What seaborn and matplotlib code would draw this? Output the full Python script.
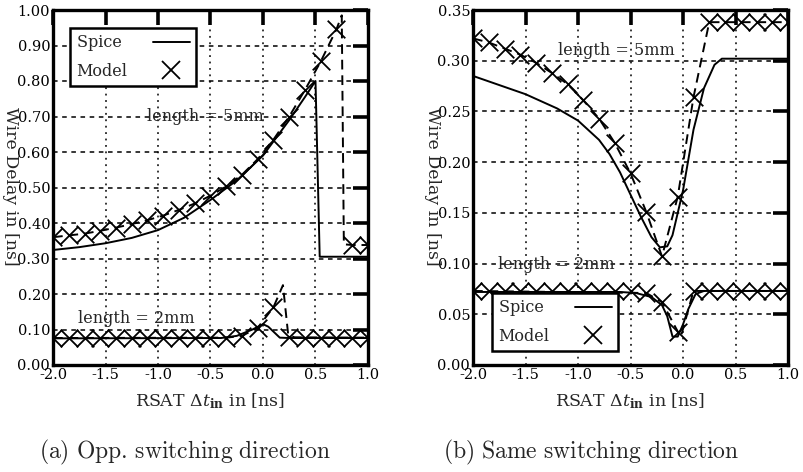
import matplotlib
matplotlib.use("Agg")
import matplotlib.pyplot as plt
import seaborn as sns
import pandas as pd
from matplotlib.lines import Line2D

# ---------------- data ----------------
# model sample points (crosses), same x grid for all model series
x_model = [-2.0, -1.85, -1.7, -1.55, -1.4, -1.25, -1.1, -0.95, -0.8, -0.65, -0.5,
           -0.35, -0.2, -0.05, 0.1, 0.25, 0.4, 0.55, 0.7, 0.85, 1.0]

# (a) opposite switching direction
a_model5 = [0.360, 0.365, 0.370, 0.378, 0.387, 0.397, 0.408, 0.421, 0.437, 0.455, 0.477,
            0.503, 0.536, 0.580, 0.635, 0.700, 0.775, 0.855, 0.946, 0.338, 0.338]
a_model5_line_x = [-2.0, -1.85, -1.7, -1.55, -1.4, -1.25, -1.1, -0.95, -0.8, -0.65, -0.5,
                   -0.35, -0.2, -0.05, 0.1, 0.25, 0.4, 0.55, 0.7, 0.75, 0.77, 0.85, 1.0]
a_model5_line_y = [0.360, 0.365, 0.370, 0.378, 0.387, 0.397, 0.408, 0.421, 0.437, 0.455, 0.477,
                   0.503, 0.536, 0.580, 0.635, 0.700, 0.775, 0.855, 0.946, 0.985, 0.340, 0.338, 0.338]
a_spice5_x = [-2.0, -1.75, -1.5, -1.25, -1.0, -0.75, -0.5, -0.25, 0.0, 0.25, 0.4, 0.5, 0.54, 1.0]
a_spice5_y = [0.324, 0.332, 0.343, 0.358, 0.380, 0.415, 0.465, 0.520, 0.590, 0.690, 0.755, 0.800, 0.305, 0.305]

a_model2 = [0.076, 0.076, 0.076, 0.076, 0.076, 0.076, 0.076, 0.076, 0.076, 0.076, 0.076,
            0.077, 0.082, 0.105, 0.163, 0.080, 0.077, 0.077, 0.077, 0.077, 0.077]
a_model2_line_x = [-2.0, -0.35, -0.2, -0.05, 0.1, 0.19, 0.24, 0.3, 1.0]
a_model2_line_y = [0.076, 0.077, 0.082, 0.105, 0.163, 0.225, 0.085, 0.078, 0.077]
a_spice2_x = [-2.0, -0.4, -0.25, -0.1, 0.0, 0.05, 0.16, 0.25, 1.0]
a_spice2_y = [0.075, 0.076, 0.082, 0.100, 0.115, 0.108, 0.077, 0.076, 0.076]

# (b) same switching direction
b_model5 = [0.322, 0.318, 0.312, 0.306, 0.298, 0.288, 0.277, 0.261, 0.243, 0.219, 0.189,
            0.151, 0.107, 0.166, 0.264, 0.338, 0.338, 0.338, 0.338, 0.338, 0.338]
b_spice5_x = [-2.0, -1.5, -1.2, -1.0, -0.8, -0.7, -0.6, -0.5, -0.4, -0.3, -0.22, -0.15,
              -0.1, 0.0, 0.1, 0.2, 0.3, 0.37, 1.0]
b_spice5_y = [0.285, 0.267, 0.253, 0.241, 0.222, 0.208, 0.190, 0.168, 0.146, 0.126, 0.116, 0.117,
              0.128, 0.172, 0.232, 0.273, 0.296, 0.302, 0.302]

b_model2 = [0.073, 0.073, 0.073, 0.073, 0.073, 0.073, 0.073, 0.073, 0.073, 0.073, 0.073,
            0.071, 0.062, 0.033, 0.073, 0.073, 0.073, 0.073, 0.073, 0.073, 0.073]
b_model2_line_x = [-2.0, -0.35, -0.2, -0.05, -0.02, 0.1, 1.0]
b_model2_line_y = [0.073, 0.071, 0.062, 0.033, 0.028, 0.073, 0.073]
b_spice2_x = [-2.0, -0.6, -0.45, -0.3, -0.2, -0.15, -0.1, -0.05, 0.0, 0.05, 0.12, 0.2, 1.0]
b_spice2_y = [0.072, 0.072, 0.071, 0.067, 0.059, 0.048, 0.028, 0.028, 0.040, 0.055, 0.070, 0.073, 0.073]

x_ticks = [-2.0, -1.5, -1.0, -0.5, 0.0, 0.5, 1.0]
a_yticks = [0.0, 0.1, 0.2, 0.3, 0.4, 0.5, 0.6, 0.7, 0.8, 0.9, 1.0]
b_yticks = [0.0, 0.05, 0.10, 0.15, 0.20, 0.25, 0.30, 0.35]

xlabel = r"RSAT $\mathit{\Delta t}_{\mathbf{in}}$ in [ns]"
ylabel = "Wire Delay in [ns]"
captions = [r"$\mathrm{(a)\ Opp.\,switching\ direction}$",
            r"$\mathrm{(b)\ Same\ switching\ direction}$"]
legend_labels = ["Spice ", "Model"]

# ---------------- style ----------------
sns.set_theme(style="white")
plt.rcParams['font.family'] = ['DejaVu Serif']
plt.rcParams['mathtext.fontset'] = 'dejavuserif'
plt.rcParams['axes.unicode_minus'] = False

FS = 10.5
FS_TXT = 11.5
fig = plt.figure(figsize=(8.04, 4.72), dpi=100)
ax1 = fig.add_axes([53/804, 1-365/472, 315/804, 355/472])
ax2 = fig.add_axes([473/804, 1-365/472, 315/804, 355/472])


def line(ax, x, y, ls):
    df = pd.DataFrame({"x": x, "y": y})
    sns.lineplot(data=df, x="x", y="y", ax=ax, estimator=None, sort=False,
                 color="black", linewidth=1.4, linestyle=ls, legend=False)


def crosses(ax, x, y):
    df = pd.DataFrame({"x": x, "y": y})
    sns.scatterplot(data=df, x="x", y="y", ax=ax, marker="x", s=160,
                    color="black", linewidth=1.3, legend=False, zorder=5)


dash = (0, (5, 3))
line(ax1, a_spice5_x, a_spice5_y, "-")
line(ax1, a_model5_line_x, a_model5_line_y, dash)
crosses(ax1, x_model, a_model5)
line(ax1, a_spice2_x, a_spice2_y, "-")
line(ax1, a_model2_line_x, a_model2_line_y, dash)
crosses(ax1, x_model, a_model2)

line(ax2, b_spice5_x, b_spice5_y, "-")
line(ax2, x_model, b_model5, dash)
crosses(ax2, x_model, b_model5)
line(ax2, b_spice2_x, b_spice2_y, "-")
line(ax2, b_model2_line_x, b_model2_line_y, dash)
crosses(ax2, x_model, b_model2)

for ax, yt, ylim, fmt in [(ax1, a_yticks, (0, 1.0), "{:.2f}"), (ax2, b_yticks, (0, 0.35), "{:.2f}")]:
    ax.set_xlim(-2.0, 1.0)
    ax.set_ylim(*ylim)
    ax.set_xticks(x_ticks)
    ax.set_xticklabels(["{:.1f}".format(v) for v in x_ticks], fontsize=FS)
    ax.set_yticks(yt)
    ax.set_yticklabels([fmt.format(v) for v in yt], fontsize=FS)
    ax.tick_params(direction="in", length=11, width=2.6, top=True, right=True,
                   pad=2, colors="black")
    ax.xaxis.grid(True, color="black", linestyle=(0, (1.2, 3)), linewidth=1.1)
    ax.yaxis.grid(True, color="black", linestyle=(0, (3, 3)), linewidth=1.1)
    ax.set_axisbelow(True)
    for sp in ax.spines.values():
        sp.set_linewidth(2.4)
        sp.set_color("black")
    ax.set_xlabel(xlabel, fontsize=12.5, labelpad=7)
    ax.set_ylabel("")

# y labels (rotated, overlapping the tick labels as in the original)
fig.text(10/804, 1-186/472, ylabel, rotation=270, ha="center", va="center", fontsize=12.5)
fig.text(433/804, 1-186/472, ylabel, rotation=270, ha="center", va="center", fontsize=12.5)

# annotations
ax1.text(-0.55, 0.70, "length = 5mm", ha="center", va="center", fontsize=FS_TXT)
ax1.text(-1.21, 0.132, "length = 2mm", ha="center", va="center", fontsize=FS_TXT)
ax2.text(-0.63, 0.310, "length = 5mm", ha="center", va="center", fontsize=FS_TXT)
ax2.text(-1.21, 0.0986, "length = 2mm", ha="center", va="center", fontsize=FS_TXT)

handles = [Line2D([], [], color="black", linewidth=1.4, label=legend_labels[0]),
           Line2D([], [], color="black", marker="x", markersize=12.5, markeredgewidth=1.3,
                  linestyle="none", label=legend_labels[1])]
for ax, anchor in [(ax1, (0.054, 0.949)), (ax2, (0.06, 0.203))]:
    leg = ax.legend(handles=handles, loc="upper left", bbox_to_anchor=anchor, borderaxespad=0,
                    markerfirst=False, fontsize=FS_TXT, handlelength=2.3, handletextpad=1.6,
                    labelspacing=0.7, borderpad=0.4, fancybox=False, framealpha=1,
                    edgecolor="black")
    leg.get_frame().set_linewidth(1.8)
    leg.set_zorder(10)

fig.text(185/804, 1-452/472, captions[0], ha="center", va="center", fontsize=17,
         math_fontfamily="cm")
fig.text(591/804, 1-452/472, captions[1], ha="center", va="center", fontsize=17,
         math_fontfamily="cm")

fig.savefig("out.png", dpi=100, facecolor="white")
